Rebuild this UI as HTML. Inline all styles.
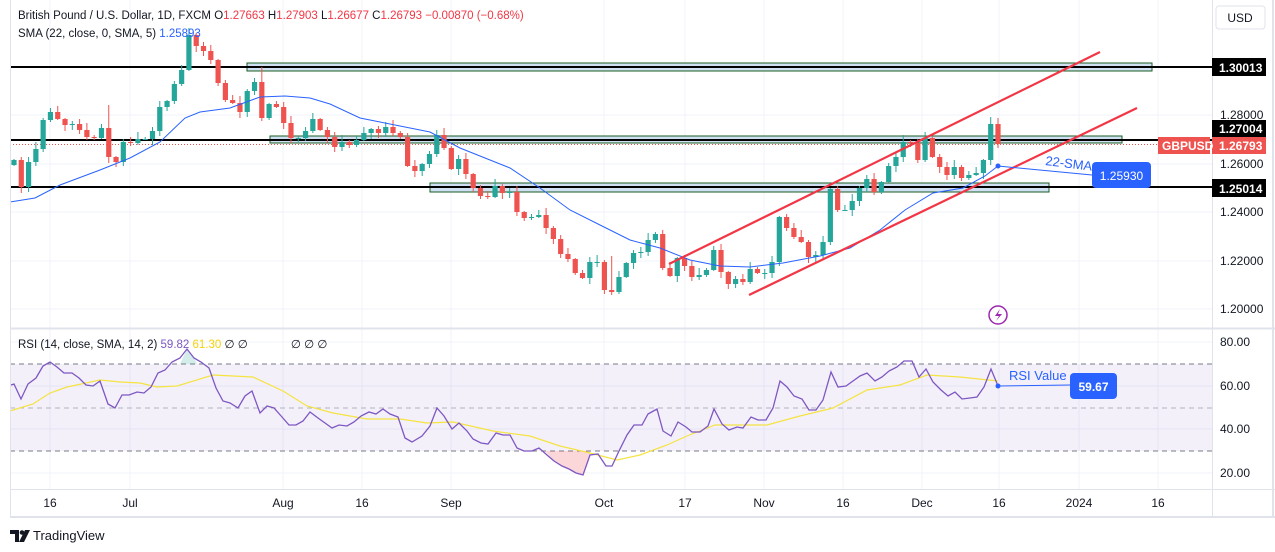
<!DOCTYPE html>
<html><head><meta charset="utf-8"><style>
html,body{margin:0;padding:0;background:#fff;width:1275px;height:552px;overflow:hidden}
svg{display:block;font-family:"Liberation Sans",sans-serif}
</style></head><body>
<svg id="s" width="1275" height="552" viewBox="0 0 1275 552" xmlns="http://www.w3.org/2000/svg">
<rect x="0" y="0" width="1275" height="552" fill="#fff"/>
<g id="grid" stroke="#f0f3fa" stroke-width="1"></g>
<rect x="10" y="364" width="1202" height="87" fill="#7e57c2" fill-opacity="0.09"/>
<line x1="10" y1="364" x2="1212" y2="364" stroke="#787b86" stroke-dasharray="5,4"/>
<line x1="10" y1="408" x2="1212" y2="408" stroke="#b2b5be" stroke-dasharray="5,4"/>
<line x1="10" y1="451" x2="1212" y2="451" stroke="#787b86" stroke-dasharray="5,4"/>
<rect x="247" y="63" width="905" height="8" fill="#cfe0f3" stroke="#1b5e20" stroke-width="1"/>
<rect x="270" y="136" width="852" height="7" fill="#cfe0f3" stroke="#1b5e20" stroke-width="1"/>
<rect x="430" y="183" width="619" height="9" fill="#cfe0f3" stroke="#1b5e20" stroke-width="1"/>
<line x1="10" y1="67" x2="1212" y2="67" stroke="#000" stroke-width="2"/>
<line x1="10" y1="140" x2="1212" y2="140" stroke="#000" stroke-width="2"/>
<line x1="10" y1="187" x2="1212" y2="187" stroke="#000" stroke-width="2"/>
<line x1="10" y1="144.5" x2="1212" y2="144.5" stroke="#ef5350" stroke-width="1" stroke-dasharray="1,2"/>
<g id="candles"></g>
<polyline fill="none" stroke="#2962ff" stroke-width="1" points="10,202 35,198 60,185 100,170 130,158 160,142 185,118 200,112 230,108 260,97 285,96 310,98 330,104 360,118 380,122 400,126 430,132 460,148 490,160 510,168 540,188 570,210 600,225 630,240 660,248 690,260 720,266 750,267 783,263 820,256 850,248 880,230 905,210 933,193 963,188 985,176 998,166"/>
<line x1="669" y1="264" x2="1100" y2="52" stroke="#f23645" stroke-width="2.2"/>
<line x1="749" y1="295" x2="1137" y2="108" stroke="#f23645" stroke-width="2.2"/>
<line x1="998" y1="166" x2="1092" y2="175" stroke="#2962ff" stroke-width="1"/>
<circle cx="998" cy="166" r="2.5" fill="#2962ff"/>
<text x="1045" y="165" font-size="13" fill="#2962ff" transform="rotate(7 1045 165)">22-SMA</text>
<rect x="1092" y="162" width="59" height="26" rx="4" fill="#2962ff"/>
<text x="1121.5" y="180" font-size="12" fill="#fff" text-anchor="middle">1.25930</text>
<polygon points="545,451 554,461 562,466 569,469 576,473 583,475 590,455 590,451" fill="#f23645" fill-opacity="0.2"/>
<polygon points="180,364 187,349 194,358 197,364" fill="#26a69a" fill-opacity="0.2"/>
<polyline fill="none" stroke="#f5e342" stroke-width="1.2" points="10,411 33,404 50,393 67,387 100,380 120,382 140,383 157,387 177,386 213,375 253,377 283,391 307,406 333,413 367,419 400,419 427,423 453,422 493,431 500,432 530,436 560,446 590,453 617,460 640,455 667,445 687,436 715,425 767,425 800,416 833,408 867,390 900,385 927,375 960,377 998,381"/>
<polyline fill="none" stroke="#7e57c2" stroke-width="1.3" points="11,385 14,384 21,399 28,384 36,378 43,366 50,362 57,367 64,373 72,373 79,378 86,385 93,386 100,381 108,404 115,408 122,395 129,395 137,392 144,393 151,387 158,373 165,370 172,362 180,358 187,349 194,358 201,362 209,368 216,388 223,401 230,403 238,408 245,396 252,391 260,413 267,406 274,408 282,417 289,425 296,425 303,421 310,412 318,418 325,423 332,428 339,425 347,426 354,422 361,416 369,412 376,414 383,409 390,414 398,417 405,438 412,442 422,436 430,426 437,408 444,416 452,429 459,423 467,431 473,439 481,443 488,444 496,433 503,435 510,435 517,448 524,451 532,451 539,448 547,455 554,461 562,466 569,469 576,473 583,475 590,455 598,454 606,466 612,466 619,451 627,435 634,425 642,425 648,414 657,409 663,431 671,436 678,422 686,427 692,432 700,432 708,426 714,409 722,424 729,430 737,427 743,428 751,417 758,420 766,420 773,408 780,381 787,387 794,396 802,399 809,410 816,410 823,400 831,372 838,387 846,386 853,381 860,376 867,373 875,381 882,377 889,371 897,367 904,361 912,361 919,377 926,369 933,382 941,390 948,396 955,392 962,399 970,398 977,397 984,387 991,369 998,386"/>
<line x1="998" y1="386" x2="1070" y2="385" stroke="#2962ff" stroke-width="1"/>
<circle cx="998" cy="386" r="2.5" fill="#2962ff"/>
<text x="1009" y="380" font-size="13" fill="#2962ff">RSI Value</text>
<rect x="1070" y="373" width="47" height="26" rx="4" fill="#2962ff"/>
<text x="1093.5" y="391" font-size="12" fill="#fff" text-anchor="middle" font-weight="bold">59.67</text>
<line x1="10" y1="328.5" x2="1275" y2="328.5" stroke="#e0e3eb" stroke-width="2"/>
<line x1="10" y1="489.5" x2="1275" y2="489.5" stroke="#e0e3eb"/>
<line x1="1212.5" y1="0" x2="1212.5" y2="517" stroke="#e0e3eb"/>
<line x1="10.5" y1="0" x2="10.5" y2="517" stroke="#e0e3eb"/>
<line x1="10" y1="517" x2="1275" y2="517" stroke="#e0e3eb" stroke-width="2"/>
<line x1="1273" y1="0" x2="1273" y2="517" stroke="#e0e3eb" stroke-width="2"/>
<text x="18" y="19" font-size="11.5" fill="#131722">British Pound / U.S. Dollar, 1D, FXCM  O<tspan fill="#f23645">1.27663</tspan>  H<tspan fill="#f23645">1.27903</tspan>  L<tspan fill="#f23645">1.26677</tspan>  C<tspan fill="#f23645">1.26793 −0.00870 (−0.68%)</tspan></text>
<text x="18" y="37" font-size="11.5" fill="#131722">SMA (22, close, 0, SMA, 5) <tspan fill="#2962ff">1.25893</tspan></text>
<text x="18" y="348" font-size="11.5" fill="#131722">RSI (14, close, SMA, 14, 2) <tspan fill="#7e57c2">59.82</tspan> <tspan fill="#f5d20a">61.30</tspan> ∅ ∅ <tspan dx="40">∅ ∅ ∅</tspan></text>
<g font-size="12" fill="#131722">
<rect x="1216" y="6" width="49" height="23" rx="3" fill="#fff" stroke="#e0e3eb"/>
<text x="1240" y="22" text-anchor="middle">USD</text>
<text x="1220" y="119">1.28000</text>
<text x="1220" y="168">1.26000</text>
<text x="1220" y="216">1.24000</text>
<text x="1220" y="265">1.22000</text>
<text x="1220" y="313">1.20000</text>
<text x="1220" y="346">80.00</text>
<text x="1220" y="390">60.00</text>
<text x="1220" y="433">40.00</text>
<text x="1220" y="477">20.00</text>
</g>
<g font-size="12" fill="#fff" font-weight="bold">
<rect x="1212" y="58" width="54" height="18" fill="#000"/><text x="1219" y="72">1.30013</text>
<rect x="1212" y="120" width="54" height="17" fill="#000"/><text x="1219" y="133">1.27004</text>
<rect x="1212" y="137" width="54" height="17" fill="#ef5350"/><text x="1219" y="150">1.26793</text>
<rect x="1158" y="137" width="52" height="17" fill="#ef5350"/><text x="1162" y="150">GBPUSD</text>
<rect x="1212" y="179" width="54" height="18" fill="#000"/><text x="1219" y="193">1.25014</text>
</g>
<g font-size="12" fill="#131722" text-anchor="middle" id="taxis"></g>
<circle cx="998" cy="315" r="9" fill="#fff" stroke="#9c27b0" stroke-width="1.5"/>
<path d="M1000,309 L995,316 L999,316 L996,321 L1002,314 L998,314 Z" fill="#9c27b0"/>
<g transform="translate(10,528)">
<path d="M0,2 h9 v12 h-4 v-8 h-5 z" fill="#131722"/>
<circle cx="12" cy="4.5" r="2.3" fill="#131722"/>
<path d="M15,2 h5 l-6,12 h-5 z" fill="#131722"/>
</g>
<text x="33" y="540" font-size="13" fill="#131722">TradingView</text>
</svg>
<script>
(function(){
var NS="http://www.w3.org/2000/svg";
function el(t,a,p){var e=document.createElementNS(NS,t);for(var k in a)e.setAttribute(k,a[k]);p.appendChild(e);return e;}
var grid=document.getElementById('grid');
var xs=[50,130,283,362,451,604,685,764,843,922,999,1079,1158];
xs.forEach(function(x){el('line',{x1:x,y1:0,x2:x,y2:489},grid);});
[115,164,212,261,309,342,386,429,473].forEach(function(y){el('line',{x1:10,y1:y,x2:1212,y2:y},grid);});
var labs=["16","Jul","Aug","16","Sep","Oct","17","Nov","16","Dec","16","2024","16"];
var ta=document.getElementById('taxis');
xs.forEach(function(x,i){var t=el('text',{x:x,y:507},ta);t.textContent=labs[i];});
var c=[160,187,162,149,120,112,119,125,124,130,137,138,128,157,162,142,143,139,139,131,107,101,84,70,35,46,51,60,83,100,103,112,91,82,118,104,107,123,138,138,131,119,130,137,147,142,145,140,133,129,133,127,133,137,166,171,
164,154,135,148,169,159,174,188,196,197,186,193,192,212,218,217,215,228,239,254,259,273,278,262,262,290,292,277,263,253,252,240,234,268,276,258,266,277,275,270,250,272,284,279,282,269,273,273,262,217,
228,237,242,257,255,242,189,210,210,201,188,179,192,182,166,157,142,143,160,138,157,167,175,167,178,175,173,160,124,144];
var g=document.getElementById('candles');
var n=c.length,step=(998-14)/(n-1),prev=165;
var hi={24:28,34:67,13:105,82:256,134:117,135:118};
for(var i=0;i<n;i++){
 var x=14+i*step,o=prev,cl=c[i];
 var tp=Math.min(o,cl),bt=Math.max(o,cl);
 var r1=((i*37)%7)+1,r2=((i*53)%6)+1;
 var h=(hi[i]!==undefined)?Math.min(hi[i],tp-1):tp-r1, l=bt+r2;
 var col=cl<=o?'#26a69a':'#ef5350';
 el('line',{x1:x,y1:h,x2:x,y2:l,stroke:col,'stroke-width':1},g);
 el('rect',{x:x-2.6,y:tp,width:5.2,height:Math.max(1,bt-tp),fill:col},g);
 prev=cl;
}
})();
</script>
</body></html>
